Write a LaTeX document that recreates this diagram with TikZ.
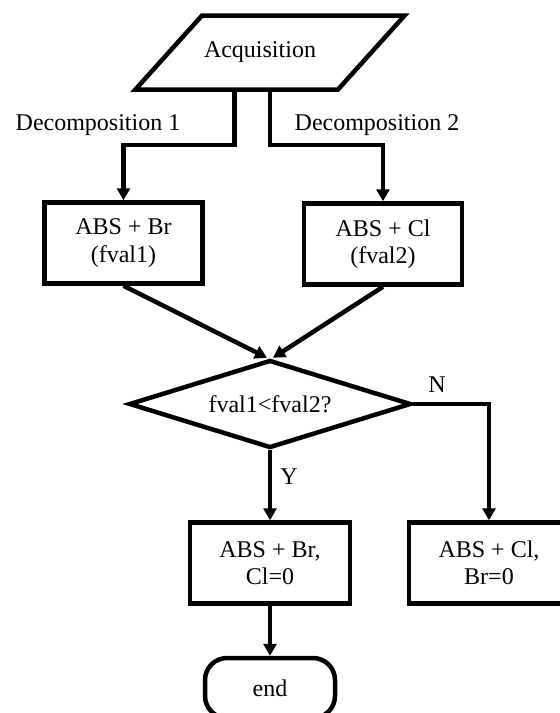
\documentclass[tikz,border=0pt]{standalone}
\usepackage{fontspec}
\setmainfont{Liberation Serif}
\usetikzlibrary{shapes.geometric,arrows.meta}

\begin{document}
\begin{tikzpicture}[x=1pt,y=-1pt,line width=4.5pt,
	font=\fontsize{24}{27.5}\selectfont,
	box/.style={draw,rectangle,align=center,minimum width=158pt,minimum height=81pt,inner sep=0pt},
	arr/.style={-{Triangle[length=12pt,width=13pt]}}]
	\def\drop{53}
	\def\gap{3pt}
	\useasboundingbox (0,0) rectangle (560,713);
	\clip (0,0) rectangle (560,713);

	\node[draw,trapezium,trapezium left angle=48,trapezium right angle=132,
		inner xsep=2pt,inner ysep=26.5pt] (acq) at (270,52.5) {Acquisition\hspace*{20pt}};
	\node (dec1) at (98,125) {Decomposition 1};
	\node (dec2) at (377,125) {Decomposition 2};

	\node[box] (b1) at (123.5,243) {ABS + Br\\(fval1)};
	\node[box] (b2) at (383,244) {ABS + Cl\\(fval2)};

	\node[draw,diamond,aspect=3.2,minimum width=282pt,minimum height=88pt,inner sep=0pt] (dec) at (270,404) {fval1<fval2?};
	\node (no) at (437,385) {N};
	\node (yes) at (289,477) {Y};

	\node[box,minimum width=160pt] (b3) at (270,563) {ABS + Br,\\Cl=0};
	\node[box,minimum width=160pt] (b4) at (489,563) {ABS + Cl,\\Br=0};
	\node[draw,rectangle,rounded corners=22pt,minimum width=130pt,minimum height=60pt] (term) at (270,688) {end};

	\draw[arr] (acq.bottom side) -- ++(0,\drop) -| (b1.north);
	\draw[arr] (acq.bottom side -| acq.center) -- ++(0,\drop) -| (b2.north);
	\draw[arr] (b1.south) -- ([xshift=-\gap]dec.north);
	\draw[arr] (b2.south) -- ([xshift=\gap]dec.north);
	\draw[arr] (dec.east) -| (b4.north);
	\draw[arr] (dec.south) -- (b3.north);
	\draw[arr] (b3.south) -- (term.north);
\end{tikzpicture}
\end{document}
